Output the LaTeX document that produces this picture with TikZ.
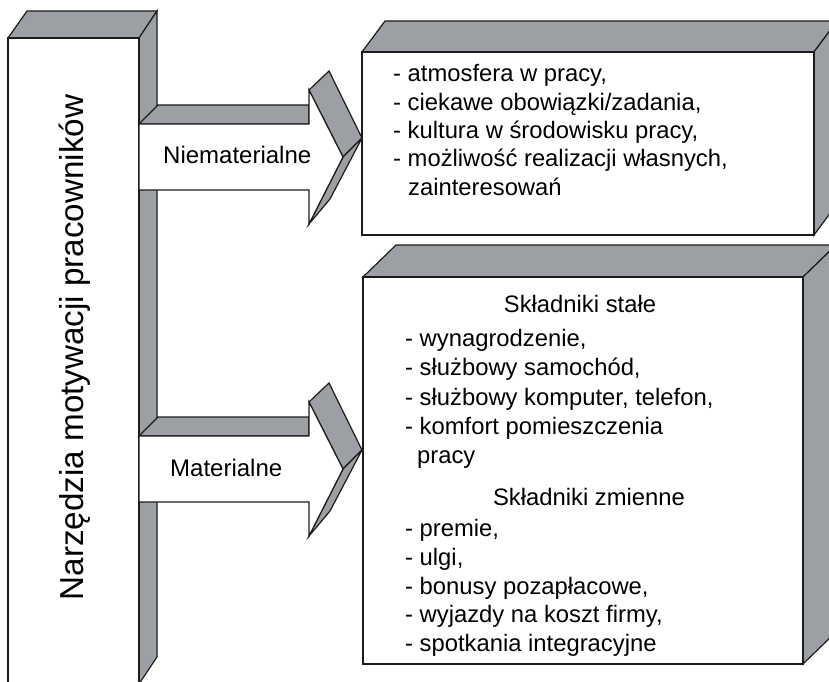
\documentclass[tikz,border=0pt]{standalone}
\usepackage{fontspec}
\setmainfont{Liberation Sans}
\definecolor{sidegray}{RGB}{156,159,164}
\definecolor{edgeink}{RGB}{28,28,28}

\tikzset{
  boxface/.style={fill=white,draw=edgeink,line width=1.2bp,line join=miter},
  boxside/.style={fill=sidegray,draw=edgeink,line width=1.2bp,line join=miter},
  listtext/.style={inner sep=0pt,anchor=base west},
  headtext/.style={inner sep=0pt,anchor=base,font=\fontsize{23.8bp}{28bp}\selectfont},
  % extruded block arrow, origin at the middle of its left end
  arrowthreed/.pic={
    % upper face of the shaft
    \path[boxside] (139,-33) -- (158,-52) -- (309,-52) -- (309,-33) -- cycle;
    % upper and lower faces of the head
    \path[boxside] (309,-67) -- (329,-86) -- (362,-19) -- (343,0) -- cycle;
    \path[boxside] (343,0) -- (362,-19) -- (330,42) -- (309,67) -- cycle;
    % front
    \path[boxface] (139,-33) -- (309,-33) -- (309,-67) -- (343,0)
      -- (309,67) -- (309,33) -- (139,33) -- cycle;
  }
}

\begin{document}
\begin{tikzpicture}[x=1bp,y=-1bp]
\useasboundingbox (0,0) rectangle (829,682);
\fill[white] (0,0) rectangle (829,682);
\clip (0,0) rectangle (829,682);

% tall block on the left
\path[boxside] (8,38) -- (27,11) -- (157,11) -- (139,38) -- cycle;
\path[boxside] (139,38) -- (157,11) -- (157,657) -- (139,684) -- cycle;
\path[boxface] (8,38) rectangle (139,684);
\node[rotate=90,anchor=base,inner sep=0pt,font=\fontsize{33.2bp}{40bp}\selectfont]
  (title) at (83,347.5) {Narzędzia motywacji pracowników};

% the two arrows
\pic at (0,157) {arrowthreed};
\pic at (0,469) {arrowthreed};
\node[listtext,font=\fontsize{24bp}{28bp}\selectfont] (niemat) at (163,164) {Niematerialne};
\node[listtext,font=\fontsize{24bp}{28bp}\selectfont] (mat) at (170,476) {Materialne};

% upper right block
\path[boxside] (362,52) -- (385,21) -- (837,21) -- (814,52) -- cycle;
\path[boxside] (814,52) -- (837,21) -- (837,204) -- (814,235) -- cycle;
\path[boxface] (362,52) rectangle (814,235);
\node[listtext,font=\fontsize{23.8bp}{28.3bp}\selectfont] (intangible) at (393,82)
  {\begin{tabular}[t]{@{}l@{}}
   - atmosfera w pracy,\\
   - ciekawe obowiązki/zadania,\\
   - kultura w środowisku pracy,\\
   - możliwość realizacji własnych,\\
   \hspace*{15bp}zainteresowań
   \end{tabular}};

% lower right block
\path[boxside] (363,277) -- (396,245) -- (836,245) -- (803,277) -- cycle;
\path[boxside] (803,277) -- (836,245) -- (836,632) -- (803,664) -- cycle;
\path[boxface] (363,277) rectangle (803,664);
\node[headtext] (fixedhead) at (580,312) {Składniki stałe};
\node[listtext,font=\fontsize{23.8bp}{29.2bp}\selectfont] (fixedlist) at (405,346.7)
  {\begin{tabular}[t]{@{}l@{}}
   - wynagrodzenie,\\
   - służbowy samochód,\\
   - służbowy komputer, telefon,\\
   - komfort pomieszczenia\\
   \hspace*{12bp}pracy
   \end{tabular}};
\node[headtext] (varhead) at (589,505) {Składniki zmienne};
\node[listtext,font=\fontsize{23.8bp}{28.75bp}\selectfont] (varlist) at (405,536.7)
  {\begin{tabular}[t]{@{}l@{}}
   - premie,\\
   - ulgi,\\
   - bonusy pozapłacowe,\\
   - wyjazdy na koszt firmy,\\
   - spotkania integracyjne
   \end{tabular}};
\end{tikzpicture}
\end{document}
